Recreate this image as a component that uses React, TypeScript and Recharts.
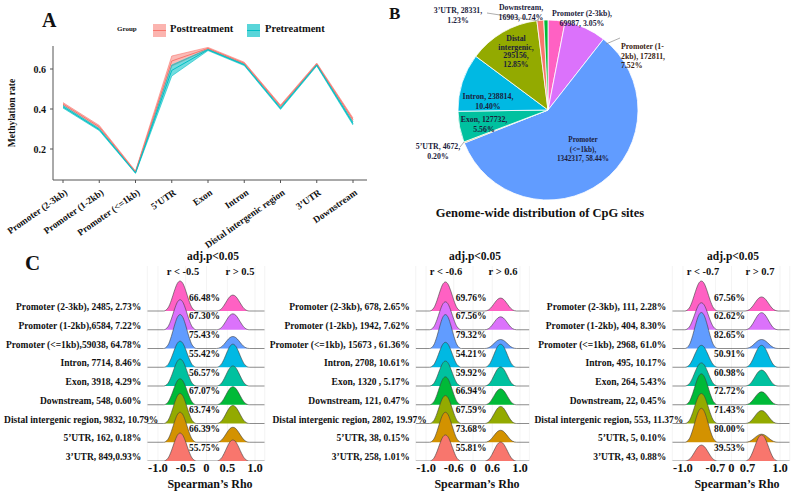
import React from 'react';
import {
  ComposedChart, Area, Line, Scatter, XAxis, YAxis, CartesianGrid, PieChart, Pie, Cell,
} from 'recharts';

const FONT = "'Times New Roman', 'Liberation Serif', serif";
const INK = '#111111';

/* ---------- A: methylation rate along gene regions ---------- */
const regions = ['Promoter (2-3kb)', 'Promoter (1-2kb)', 'Promoter (<=1kb)', '5’UTR', 'Exon', 'Intron', 'Distal intergenic region', '3’UTR', 'Downstream'];
const postMean = [0.425, 0.311, 0.086, 0.640, 0.703, 0.629, 0.415, 0.625, 0.347];
const postLow = [0.418, 0.305, 0.082, 0.615, 0.698, 0.624, 0.410, 0.620, 0.338];
const postHigh = [0.432, 0.318, 0.090, 0.665, 0.708, 0.634, 0.420, 0.630, 0.355];
const preMean = [0.411, 0.297, 0.081, 0.593, 0.696, 0.621, 0.403, 0.620, 0.327];
const preLow = [0.405, 0.292, 0.078, 0.565, 0.692, 0.617, 0.398, 0.615, 0.320];
const preHigh = [0.418, 0.302, 0.085, 0.620, 0.700, 0.625, 0.408, 0.625, 0.335];
const rateTicks = [0.2, 0.4, 0.6];

const POST = '#F8766D';
const PRE = '#00BFC4';

/* ---------- B: CpG sites per region ---------- */
const siteRegions = ['Promoter (2-3kb)', 'Promoter (1-2kb)', 'Promoter (<=1kb)', '5’UTR', 'Exon', 'Intron', 'Distal intergenic', '3’UTR', 'Downstream'];
const siteCounts = [69987, 172811, 1342317, 4672, 127732, 238814, 295156, 28331, 16903];
const siteColors = ['#FF61C3', '#DB72FB', '#619CFF', '#D39200', '#00C19F', '#00B9E3', '#93AA00', '#F8766D', '#00BA38'];

/* ---------- C: rho ridges, one panel per cut-off ---------- */
const ridgeColors = ['#FF61C3', '#DB72FB', '#619CFF', '#00B9E3', '#00C19F', '#00BA38', '#93AA00', '#D39200', '#F8766D'];
const cutoffs = [0.5, 0.6, 0.7];
const peakRho = [0.6, 0.72, 0.83];

const rowLabels1 = ['Promoter (2-3kb), 2485, 2.73%', 'Promoter (1-2kb),6584, 7.22%', 'Promoter (<=1kb),59038, 64.78%', 'Intron, 7714, 8.46%', 'Exon, 3918, 4.29%', 'Downstream, 548, 0.60%', 'Distal intergenic region, 9832, 10.79%', '5’UTR, 162, 0.18%', '3’UTR, 849,0.93%'];
const rowLabels2 = ['Promoter (2-3kb), 678, 2.65%', 'Promoter (1-2kb), 1942, 7.62%', 'Promoter (<=1kb), 15673 , 61.36%', 'Intron, 2708, 10.61%', 'Exon, 1320 , 5.17%', 'Downstream, 121, 0.47%', 'Distal intergenic region, 2802, 19.97%', '5’UTR, 38, 0.15%', '3’UTR, 258, 1.01%'];
const rowLabels3 = ['Promoter (2-3kb), 111, 2.28%', 'Promoter (1-2kb), 404, 8.30%', 'Promoter (<=1kb), 2968, 61.0%', 'Intron, 495, 10.17%', 'Exon, 264, 5.43%', 'Downstream, 22, 0.45%', 'Distal intergenic region, 553, 11.37%', '5’UTR,  5, 0.10%', '3’UTR, 43, 0.88%'];

const negShare1 = ['66.48%', '67.30%', '75.43%', '55.42%', '56.57%', '67.07%', '63.74%', '66.39%', '55.75%'];
const negShare2 = ['69.76%', '67.56%', '79.32%', '54.21%', '59.92%', '66.94%', '67.59%', '73.68%', '55.81%'];
const negShare3 = ['67.56%', '62.62%', '82.65%', '50.91%', '60.98%', '72.72%', '71.43%', '80.00%', '39.53%'];

// peak density of each ridge, in row heights
const negPeak1 = [1.60, 1.60, 1.81, 1.39, 1.44, 1.39, 1.60, 1.60, 1.49];
const posPeak1 = [0.85, 0.85, 0.64, 1.23, 1.07, 0.96, 0.96, 0.80, 1.12];
const negPeak2 = [1.55, 1.49, 1.81, 1.33, 1.33, 1.49, 1.49, 1.60, 1.39];
const posPeak2 = [0.69, 0.69, 0.48, 1.23, 1.01, 0.85, 0.91, 0.64, 1.01];
const negPeak3 = [1.60, 1.44, 1.92, 1.17, 1.23, 1.65, 1.60, 1.81, 0.85];
const posPeak3 = [0.75, 0.91, 0.48, 1.17, 0.85, 0.69, 0.69, 0.43, 1.39];

// shape of one density bump (relative height vs. distance from its peak)
const bumpOffsets = [-0.34, -0.25, -0.18, -0.12, -0.06, 0, 0.06, 0.12, 0.18, 0.25, 0.34];
const bumpShape = [0, 0.1, 0.36, 0.66, 0.91, 1, 0.91, 0.66, 0.36, 0.1, 0];

// share of the axis given to |rho| below the cut-off (broken axis)
const innerShare = [0.43, 0.41, 0.33];

const X_MIN = -1.22;
const X_MAX = 1.2;
const ROWS = 9;

const toAxis = (r: number, cut: number, inner: number) => {
  const m = Math.abs(r);
  const u = m <= cut ? (m / cut) * inner : inner + ((m - cut) / (1 - cut)) * (1 - inner);
  return r < 0 ? -u : u;
};

const buildRidgeData = (cut: number, inner: number, peak: number, neg: number[], pos: number[]) => {
  const negAt = toAxis(-peak, cut, inner);
  const posAt = toAxis(peak, cut, inner);
  const cols = [
    { x: X_MIN, n: 0, p: 0 },
    ...bumpOffsets.map((o, k) => ({ x: negAt + o, n: bumpShape[k], p: 0 })),
    ...bumpOffsets.map((o, k) => ({ x: posAt + o, n: 0, p: bumpShape[k] })),
    { x: X_MAX, n: 0, p: 0 },
  ];
  return cols.map((c) => {
    const row: Record<string, number> = { x: c.x };
    neg.forEach((h, i) => {
      row[`r${i}`] = ROWS - 1 - i + h * c.n + pos[i] * c.p;
    });
    return row;
  });
};

const ridgePanels = [
  { left: 0, width: 270, axisW: 147.3, right: 5.3, labels: rowLabels1, shares: negShare1, neg: negPeak1, pos: posPeak1, k: 0,
    head: { title: 213, lo: 183, hi: 240, axis: 210 } },
  { left: 270, width: 265, axisW: 145.7, right: 5.6, labels: rowLabels2, shares: negShare2, neg: negPeak2, pos: posPeak2, k: 1,
    head: { title: 475, lo: 446, hi: 503, axis: 477 } },
  { left: 530, width: 268, axisW: 142.3, right: 8.3, labels: rowLabels3, shares: negShare3, neg: negPeak3, pos: posPeak3, k: 2,
    head: { title: 733, lo: 703, hi: 760, axis: 737 } },
];

const AngledTick = (props: any) => {
  const { x, y, payload } = props;
  return (
    <g transform={`translate(${x + 5},${y + 11})`}>
      <text transform="rotate(-35)" textAnchor="end" fontFamily={FONT} fontWeight="bold" fontSize={9.5} fill={INK}>
        {payload.value}
      </text>
    </g>
  );
};

const MethylationPanel = () => {
  const data = regions.map((name, i) => ({
    name,
    postBand: [postLow[i], postHigh[i]],
    preBand: [preLow[i], preHigh[i]],
    post: postMean[i],
    pre: preMean[i],
  }));
  return (
    <div style={{ position: 'absolute', left: 0, top: 0 }}>
      <ComposedChart width={380} height={260} data={data} margin={{ top: 46, right: 13, bottom: 10, left: 13 }}>
        <XAxis
          dataKey="name"
          interval={0}
          padding={{ left: 10, right: 14 }}
          height={70}
          tick={AngledTick}
          tickSize={3}
          tickMargin={0}
          axisLine={{ stroke: '#555' }}
          tickLine={{ stroke: '#555' }}
        />
        <YAxis
          width={40}
          type="number"
          domain={[0.045, 0.715]}
          ticks={rateTicks}
          interval={0}
          allowDataOverflow
          tickSize={3}
          tickMargin={4}
          tickFormatter={(v: number) => v.toFixed(1)}
          axisLine={{ stroke: '#555' }}
          tickLine={{ stroke: '#555' }}
          tick={{ fontFamily: FONT, fontWeight: 'bold', fontSize: 10, fill: INK }}
        />
        <Area dataKey="postBand" type="linear" fill={POST} fillOpacity={0.5} stroke={POST} strokeWidth={0.6} isAnimationActive={false} />
        <Area dataKey="preBand" type="linear" fill={PRE} fillOpacity={0.55} stroke={PRE} strokeWidth={0.6} isAnimationActive={false} />
        <Line dataKey="post" type="linear" stroke={POST} strokeWidth={1} dot={false} isAnimationActive={false} />
        <Line dataKey="pre" type="linear" stroke={PRE} strokeWidth={1} dot={false} isAnimationActive={false} />
      </ComposedChart>
    </div>
  );
};

const siteTotal = siteCounts.reduce((a, b) => a + b, 0);
const pctOf = (v: number) => `${((v / siteTotal) * 100).toFixed(2)}%`;

// label text lines and placement (offset from pie centre) for each slice
const pieLabelLayout = [
  { dx: 34, dy: -97, anchor: 'middle', lines: (c: number, p: string) => ['Promoter (2-3kb),', `${c}, ${p}`] },
  { dx: 73, dy: -64, anchor: 'start', lines: (c: number, p: string) => ['Promoter (1-', `2kb), ${c},`, p], line: [58, -66, 72, -72] },
  { dx: 35, dy: 30, anchor: 'middle', lines: (c: number, p: string) => ['Promoter', '(<=1kb),', `${c}, ${p}`] },
  { dx: -110, dy: 36, anchor: 'middle', lines: (c: number, p: string) => [`5’UTR, ${c},`, p], line: [-88, 37, -84, 32] },
  { dx: -64, dy: 9, anchor: 'middle', lines: (c: number, p: string) => [`Exon, ${c},`, p] },
  { dx: -60, dy: -14, anchor: 'middle', lines: (c: number, p: string) => [`Intron, ${c},`, p] },
  { dx: -32, dy: -72, anchor: 'middle', lines: (c: number, p: string) => ['Distal', 'intergenic,', `${c},`, p] },
  { dx: -90, dy: -100, anchor: 'middle', lines: (c: number, p: string) => [`3’UTR, ${c},`, p], line: [-61, -97, -9, -89] },
  { dx: -27, dy: -103, anchor: 'middle', lines: (c: number, p: string) => ['Downstream,', `${c}, ${p}`] },
];

const renderPieLabel = (props: any) => {
  const { cx, cy, index } = props;
  const lay = pieLabelLayout[index];
  const lines = lay.lines(siteCounts[index], pctOf(siteCounts[index]));
  const gap = index === 6 ? 8.7 : 9.5;
  return (
    <g key={`lab-${index}`}>
      {lay.line && (
        <line x1={cx + lay.line[0]} y1={cy + lay.line[1]} x2={cx + lay.line[2]} y2={cy + lay.line[3]} stroke="#8a8a8a" strokeWidth={0.7} />
      )}
      <text
        x={cx + lay.dx}
        y={cy + lay.dy}
        textAnchor={lay.anchor}
        dominantBaseline="central"
        fontFamily={FONT}
        fontWeight="bold"
        fontSize={index === 2 ? 7.2 : 7.8}
        fill={index === 1 ? '#3b1d12' : '#1c1c3c'}
      >
        {lines.map((t, k) => (
          <tspan key={k} x={cx + lay.dx} dy={k === 0 ? 0 : gap}>{t}</tspan>
        ))}
      </text>
    </g>
  );
};

const SitesPie = () => {
  const data = siteRegions.map((name, i) => ({ name, value: siteCounts[i] }));
  return (
    <div style={{ position: 'absolute', left: 398, top: 0 }}>
      <PieChart width={300} height={230} margin={{ top: 0, right: 0, bottom: 0, left: 0 }}>
        <Pie
          data={data}
          dataKey="value"
          nameKey="name"
          cx={150}
          cy={110}
          outerRadius={90}
          startAngle={90}
          endAngle={-270}
          stroke="#ffffff"
          strokeWidth={0.8}
          label={renderPieLabel}
          labelLine={false}
          isAnimationActive={false}
        >
          {data.map((d, i) => <Cell key={d.name} fill={siteColors[i]} />)}
        </Pie>
      </PieChart>
    </div>
  );
};

const RidgePanel = ({ left, width, axisW, right, labels, shares, neg, pos, k }: any) => {
  const cut = cutoffs[k];
  const inner = innerShare[k];
  const data = buildRidgeData(cut, inner, peakRho[k], neg, pos);
  const tickRho = [-1, -cut, 0, cut, 1];
  const tickAt = tickRho.map((r) => toAxis(r, cut, inner));
  const tickText = ['-1.0', `-${cut}`, '0', `${cut}`, '1.0'];
  const shareData = shares.map((s: string, i: number) => ({ x: -0.04, y: ROWS - 1 - i + 0.72, label: s }));

  const RhoTick = (p: any) => {
    const j = tickAt.findIndex((t) => Math.abs(t - p.payload.value) < 1e-6);
    return (
      <text x={p.x} y={p.y + 11} textAnchor="middle" fontFamily={FONT} fontWeight="bold" fontSize={12.5} fill={INK}>
        {tickText[j]}
      </text>
    );
  };

  const RowTick = (p: any) => {
    const i = ROWS - 1 - p.payload.value;
    // the long distal-intergenic label runs a little further right
    const shift = i === 6 ? 11 : -6;
    return (
      <text x={p.x + shift} y={p.y - 1} textAnchor="end" fontFamily={FONT} fontWeight="bold" fontSize={9.5} fill={INK}>
        {labels[i]}
      </text>
    );
  };

  return (
    <div style={{ position: 'absolute', left, top: 250 }}>
      <ComposedChart width={width} height={247} data={data} margin={{ top: 16, right, bottom: 0, left: 0 }}>
        <CartesianGrid vertical horizontal={false} stroke="#ececec" strokeWidth={0.6} />
        <XAxis
          dataKey="x"
          type="number"
          domain={[X_MIN, X_MAX]}
          allowDataOverflow
          ticks={tickAt}
          interval={0}
          height={36}
          axisLine={false}
          tickLine={false}
          tickSize={0}
          tickMargin={0}
          tick={RhoTick}
        />
        <YAxis
          dataKey="y"
          type="number"
          width={axisW}
          domain={[0, 10.4]}
          allowDataOverflow
          ticks={[0, 1, 2, 3, 4, 5, 6, 7, 8]}
          interval={0}
          axisLine={false}
          tickLine={false}
          tickSize={0}
          tickMargin={0}
          tick={RowTick}
        />
        {ridgeColors.map((c, i) => (
          <Area
            key={`r${i}`}
            dataKey={`r${i}`}
            type="monotone"
            baseValue={ROWS - 1 - i}
            fill={c}
            fillOpacity={1}
            stroke="#3f3f3f"
            strokeWidth={0.6}
            dot={false}
            activeDot={false}
            isAnimationActive={false}
          />
        ))}
        <Scatter
          data={shareData}
          dataKey="y"
          isAnimationActive={false}
          shape={(p: any) => (
            <text x={p.cx} y={p.cy} textAnchor="middle" dominantBaseline="central" fontFamily={FONT} fontWeight="bold" fontSize={9.5} fill={INK}>
              {p.payload.label}
            </text>
          )}
        />
      </ComposedChart>
    </div>
  );
};

const Annotations = () => (
  <svg
    width={798}
    height={497}
    style={{ position: 'absolute', left: 0, top: 0, pointerEvents: 'none' }}
    fontFamily={FONT}
    fontWeight="bold"
    fill={INK}
  >
    <text x={42} y={27} fontSize={20}>A</text>
    <text x={389} y={19} fontSize={17}>B</text>
    <text x={25} y={270} fontSize={21}>C</text>

    <text transform="translate(15,113) rotate(-90)" textAnchor="middle" fontSize={9.5}>Methylation rate</text>

    {/* legend */}
    <text x={117} y={31} fontSize={7}>Group</text>
    <rect x={153} y={24} width={13} height={13} fill={POST} fillOpacity={0.55} />
    <line x1={153} y1={30.5} x2={166} y2={30.5} stroke={POST} strokeWidth={1} />
    <text x={170} y={32} fontSize={10.5}>Posttreatment</text>
    <rect x={247} y={24} width={13} height={13} fill={PRE} fillOpacity={0.65} />
    <line x1={247} y1={30.5} x2={260} y2={30.5} stroke={PRE} strokeWidth={1} />
    <text x={265} y={32} fontSize={10.5}>Pretreatment</text>

    <text x={540} y={217} textAnchor="middle" fontSize={12.5}>Genome-wide distribution of CpG sites</text>

    {ridgePanels.map((p) => (
      <g key={p.k}>
        <text x={p.head.title} y={260} textAnchor="middle" fontSize={11.5}>adj.p&lt;0.05</text>
        <text x={p.head.lo} y={275} textAnchor="middle" fontSize={10.5}>{`r < -${cutoffs[p.k]}`}</text>
        <text x={p.head.hi} y={275} textAnchor="middle" fontSize={10.5}>{`r > ${cutoffs[p.k]}`}</text>
        <text x={p.head.axis} y={488} textAnchor="middle" fontSize={12}>Spearman’s Rho</text>
      </g>
    ))}
  </svg>
);

export default function App() {
  return (
    <div style={{ position: 'absolute', left: 0, top: 0, width: 798, height: 497, background: '#ffffff', overflow: 'hidden' }}>
      <MethylationPanel />
      <SitesPie />
      {ridgePanels.map((p) => (
        <RidgePanel key={p.k} {...p} />
      ))}
      <Annotations />
    </div>
  );
}
